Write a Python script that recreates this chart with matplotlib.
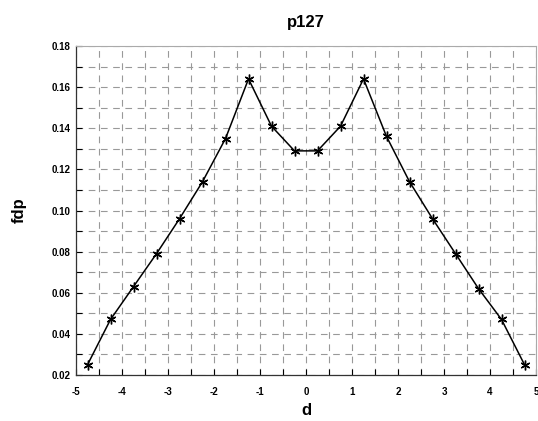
import matplotlib
matplotlib.use("Agg")
import matplotlib.pyplot as plt
from matplotlib.ticker import MultipleLocator

d = [-4.75, -4.25, -3.75, -3.25, -2.75, -2.25, -1.75, -1.25, -0.75, -0.25,
     0.25, 0.75, 1.25, 1.75, 2.25, 2.75, 3.25, 3.75, 4.25, 4.75]
fdp = [0.025, 0.047, 0.063, 0.079, 0.096, 0.114, 0.135, 0.164, 0.141, 0.129,
       0.129, 0.141, 0.164, 0.136, 0.114, 0.096, 0.079, 0.062, 0.047, 0.025]
xticks = [-5, -4, -3, -2, -1, 0, 1, 2, 3, 4, 5]
yticks = [0.02, 0.04, 0.06, 0.08, 0.10, 0.12, 0.14, 0.16, 0.18]

plt.rcParams['font.family'] = ['Liberation Sans', 'DejaVu Sans']

fig = plt.figure(figsize=(5.38, 4.21), dpi=100)
ax = fig.add_axes([0.1413, 0.1093, 0.855, 0.7814])

ax.plot(d, fdp, color='black', linewidth=1.1, marker=(6, 2, 0),
        markersize=7, markeredgewidth=1.0)

ax.set_xlim(-5, 5)
ax.set_ylim(0.02, 0.18)
ax.set_xticks(xticks)
ax.set_yticks(yticks)
ax.set_xticklabels([str(t) for t in xticks])
ax.set_yticklabels([f"{t:.2f}" for t in yticks])
ax.xaxis.set_minor_locator(MultipleLocator(0.5))
ax.yaxis.set_minor_locator(MultipleLocator(0.01))
ax.grid(True, which='both', linestyle=(0, (6, 5)), color='#999999', linewidth=0.8)
ax.tick_params(which='both', direction='in', length=4, width=0.8, labelsize=7)
ax.tick_params(axis='x', pad=9)
ax.tick_params(axis='y', pad=4)
for lab in ax.get_xticklabels() + ax.get_yticklabels():
    lab.set_fontweight('bold')

for s in ['left', 'bottom']:
    ax.spines[s].set_color('#333333')
    ax.spines[s].set_linewidth(0.9)
for s in ['top', 'right']:
    ax.spines[s].set_color('#aaaaaa')
    ax.spines[s].set_linewidth(0.8)

ax.set_title('p127', fontsize=12, fontweight='bold', pad=14)
ax.set_xlabel('d', fontsize=12, fontweight='bold', labelpad=4)
ax.set_ylabel('fdp', fontsize=12, fontweight='bold', labelpad=18)

fig.savefig('out.png', dpi=100)
